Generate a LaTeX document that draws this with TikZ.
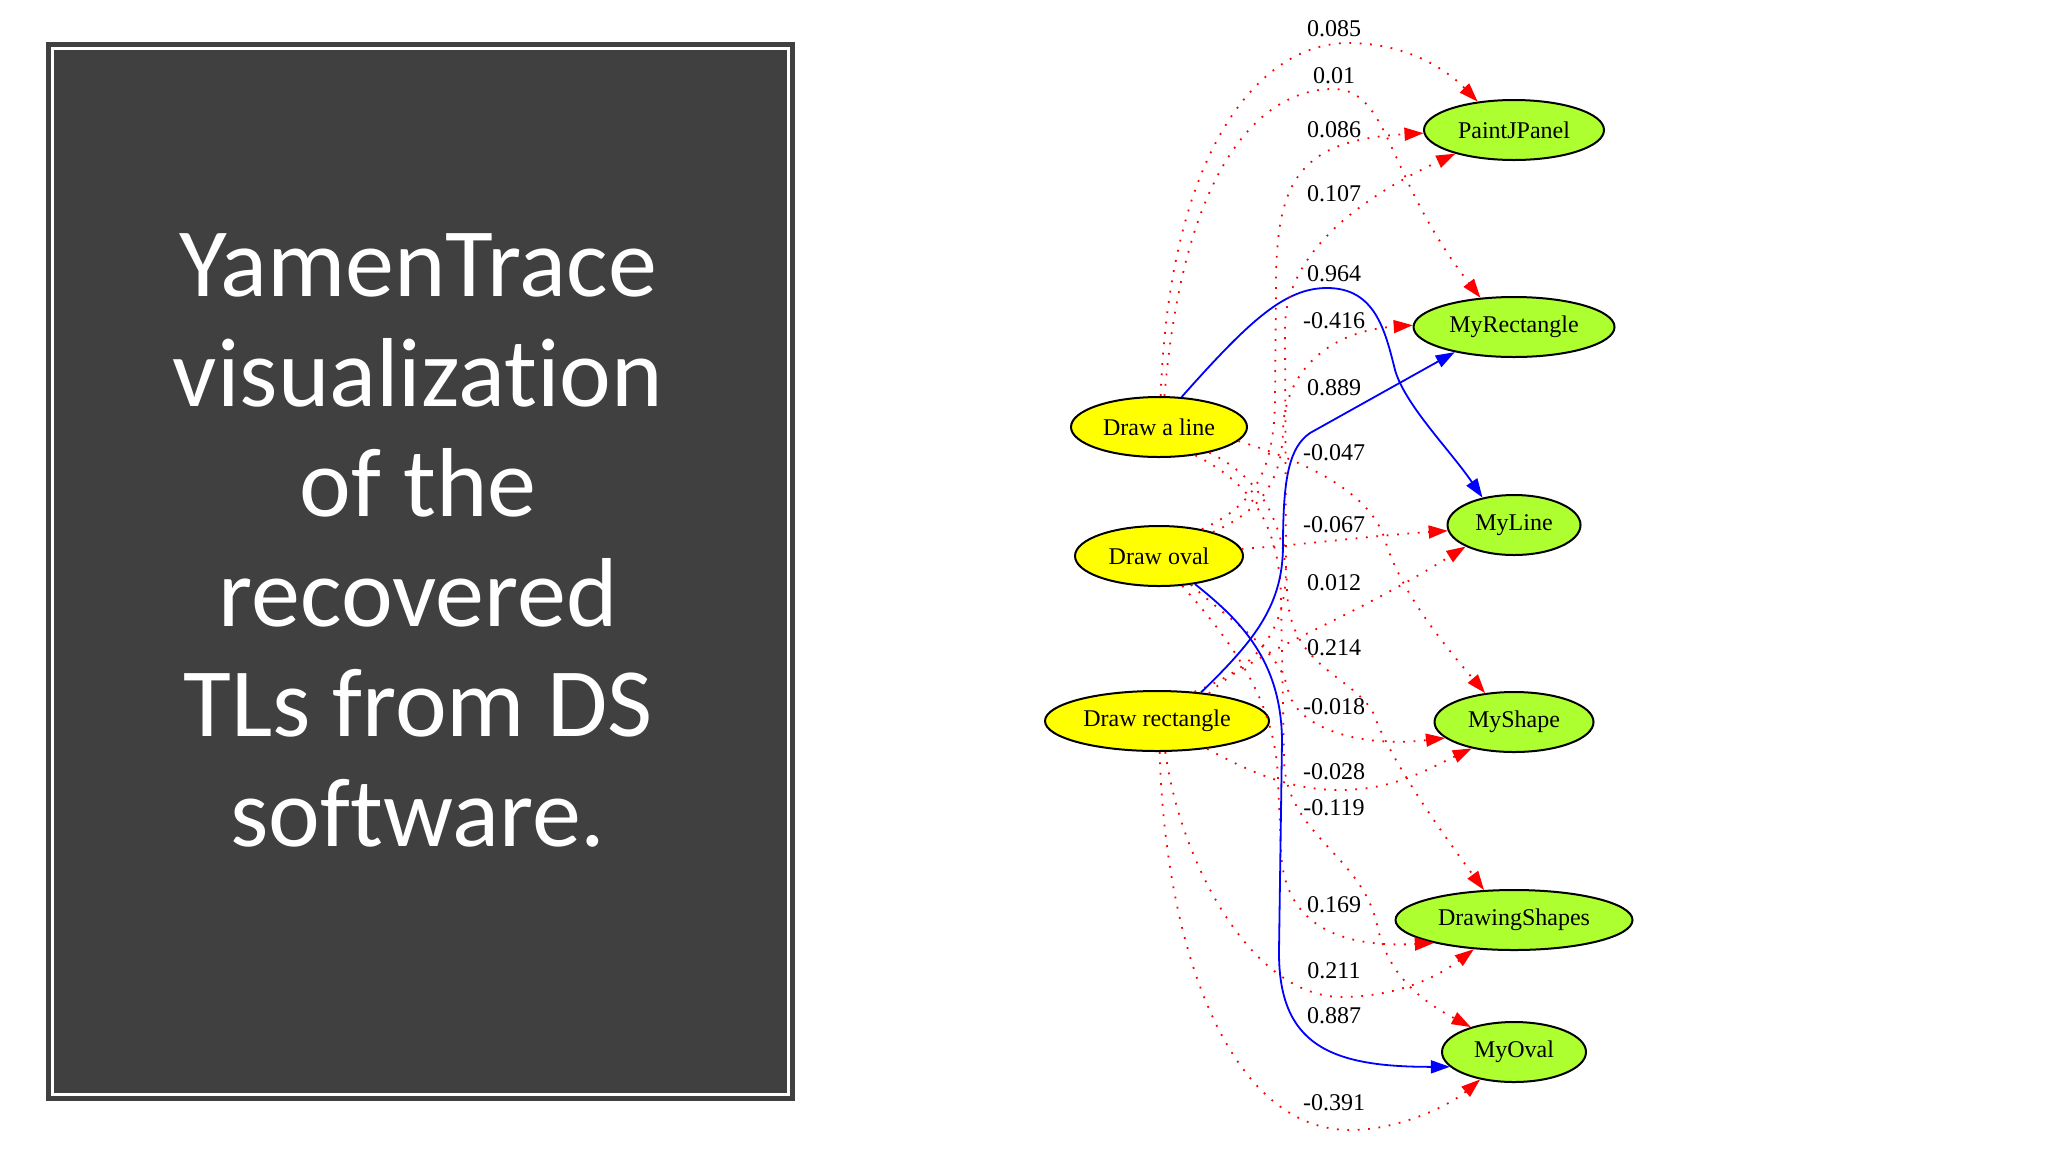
\documentclass[tikz,border=0pt]{standalone}
\usepackage{fontspec}
\setmainfont{Liberation Serif}
\newfontfamily\titlefont[Ligatures=NoCommon]{Carlito}
\definecolor{TraceYellow}{RGB}{255, 255, 0}
\definecolor{TraceGreen}{RGB}{173, 255, 47}
\definecolor{PanelGray}{RGB}{64, 64, 64}
\definecolor{LinkRed}{RGB}{255, 0, 0}
\definecolor{LinkBlue}{RGB}{0, 0, 255}
\usepackage{tikz}
\usetikzlibrary{arrows.meta, positioning, shapes.geometric}
\tikzset{
  srcbox/.style={ellipse, draw=black, fill=TraceYellow, line width=1pt,
                 minimum height=30pt, inner sep=0pt,
                 font=\fontsize{12}{14}\selectfont, text=black},
  tgtbox/.style={ellipse, draw=black, fill=TraceGreen, line width=1pt,
                 minimum height=30pt, inner sep=0pt,
                 font=\fontsize{12}{14}\selectfont, text=black},
  wlabel/.style={inner sep=0pt, font=\fontsize{12}{14}\selectfont, text=black},
  arr/.style={-{Triangle[length=9.5pt, width=6.5pt]}, line width=0.9pt, color=#1},
  dotarr/.style={arr=#1, line width=0.9pt, dash pattern=on 0.9pt off 4.3pt},
  titletext/.style={anchor=north, align=center, inner sep=0pt, text=white,
                    font=\titlefont\fontsize{49}{55}\selectfont},
}

\begin{document}
\begin{tikzpicture}[x=0.5pt, y=-0.5pt]
  \useasboundingbox (0,0) rectangle (2048,1152);

  \fill[PanelGray] (54,50) rectangle (787,1093);
  \draw[PanelGray, line width=2.5pt] (48.5,44.5) rectangle (792.5,1098.5);
  \node[titletext] (title) at (418,233)
       {YamenTrace\\visualization\\of the\\recovered\\TLs from DS\\software.};

  \node[srcbox, minimum width=88pt]  (dl) at (1159,427) {Draw a line};
  \node[srcbox, minimum width=84pt]  (do) at (1159,556) {Draw oval};
  \node[srcbox, minimum width=112pt] (dr) at (1157,721) {Draw rectangle};

  \node[tgtbox, minimum width=90pt]    (pjp) at (1514,130)  {PaintJPanel};
  \node[tgtbox, minimum width=100.5pt] (mr)  at (1514,327)  {MyRectangle};
  \node[tgtbox, minimum width=66.5pt]  (ml)  at (1514,525)  {MyLine};
  \node[tgtbox, minimum width=79.5pt]  (ms)  at (1514,722)  {MyShape};
  \node[tgtbox, minimum width=118.5pt] (ds)  at (1514,920)  {DrawingShapes};
  \node[tgtbox, minimum width=72pt]    (mo)  at (1514,1052) {MyOval};

  \node[wlabel] (w085)  at (1334,29)   {0.085};
  \node[wlabel] (w01)   at (1334,76)   {0.01};
  \node[wlabel] (w086)  at (1334,130)  {0.086};
  \node[wlabel] (w107)  at (1334,194)  {0.107};
  \node[wlabel] (w964)  at (1334,274)  {0.964};
  \node[wlabel] (wm416) at (1334,321)  {-0.416};
  \node[wlabel] (w889)  at (1334,388)  {0.889};
  \node[wlabel] (wm047) at (1334,453)  {-0.047};
  \node[wlabel] (wm067) at (1334,525)  {-0.067};
  \node[wlabel] (w012)  at (1334,583)  {0.012};
  \node[wlabel] (w214)  at (1334,648)  {0.214};
  \node[wlabel] (wm018) at (1334,707)  {-0.018};
  \node[wlabel] (wm028) at (1334,772)  {-0.028};
  \node[wlabel] (wm119) at (1334,808)  {-0.119};
  \node[wlabel] (w169)  at (1334,905)  {0.169};
  \node[wlabel] (w211)  at (1334,971)  {0.211};
  \node[wlabel] (w887)  at (1334,1016) {0.887};
  \node[wlabel] (wm391) at (1334,1103) {-0.391};

  % Draw a line
  \draw[dotarr=LinkRed] (dl.87) .. controls (1170,140) and (1265,43) .. (1348,43)
        .. controls (1405,43) and (1445,68) .. (pjp.142);
  \draw[dotarr=LinkRed] (dl.80) .. controls (1185,150) and (1270,89) .. (1333,89)
        .. controls (1390,89) and (1385,175) .. (mr.139);
  \draw[arr=LinkBlue] (dl.53) .. controls (1250,320) and (1285,288) .. (1327,288)
        .. controls (1375,288) and (1385,330) .. (1395,370)
        .. controls (1405,405) and (1450,450) .. (ml.139);
  \draw[dotarr=LinkRed] (dl.350) .. controls (1300,460) and (1370,490) .. (1385,540)
        .. controls (1400,590) and (1440,640) .. (ms.135);
  \draw[dotarr=LinkRed] (dl.333) .. controls (1262,478) and (1286,525) .. (1287,590)
        .. controls (1289,665) and (1345,672) .. (1372,710)
        .. controls (1390,760) and (1440,830) .. (ds.135);
  \draw[dotarr=LinkRed] (dl.322) .. controls (1255,485) and (1280,530) .. (1281,600)
        -- (1284,760) .. controls (1286,835) and (1362,855) .. (1377,925)
        .. controls (1388,975) and (1420,1000) .. (mo.150);

  % Draw oval
  \draw[dotarr=LinkRed] (do.32) .. controls (1255,505) and (1274,470) .. (1275,400)
        -- (1276,280) .. controls (1277,180) and (1300,140) .. (pjp.182);
  \draw[dotarr=LinkRed] (do.24) .. controls (1262,510) and (1282,480) .. (1283,430)
        .. controls (1284,380) and (1320,332) .. (mr.179);
  \draw[dotarr=LinkRed] (do.5) .. controls (1300,545) and (1380,535) .. (ml.185);
  \draw[dotarr=LinkRed] (do.318) .. controls (1235,625) and (1280,650) .. (1288,690)
        .. controls (1296,728) and (1360,748) .. (ms.193);
  \draw[dotarr=LinkRed] (do.308) .. controls (1230,640) and (1276,700) .. (1278,780)
        -- (1281,850) .. controls (1283,925) and (1340,948) .. (ds.196);
  \draw[arr=LinkBlue] (do.322) .. controls (1240,620) and (1281,660) .. (1282,740)
        -- (1279,950) .. controls (1278,1045) and (1330,1067) .. (mo.193);

  % Draw rectangle
  \draw[dotarr=LinkRed] (dr.38) .. controls (1255,668) and (1285,635) .. (1286,570)
        -- (1285,330) .. controls (1284,262) and (1345,205) .. (pjp.202);
  \draw[arr=LinkBlue] (dr.33) .. controls (1255,640) and (1283,605) .. (1283,545)
        .. controls (1283,475) and (1290,447) .. (1310,433) -- (mr.203);
  \draw[dotarr=LinkRed] (dr.28) .. controls (1255,650) and (1340,625) .. (ml.204);
  \draw[dotarr=LinkRed] (dr.331) .. controls (1250,772) and (1290,790) .. (1340,790)
        .. controls (1395,790) and (1430,768) .. (ms.212);
  \draw[dotarr=LinkRed] (dr.285) .. controls (1180,860) and (1250,995) .. (1340,997)
        .. controls (1400,997) and (1440,975) .. (ds.216);
  \draw[dotarr=LinkRed] (dr.275) .. controls (1165,950) and (1230,1130) .. (1350,1130)
        .. controls (1400,1130) and (1450,1105) .. (mo.219);
\end{tikzpicture}
\end{document}
